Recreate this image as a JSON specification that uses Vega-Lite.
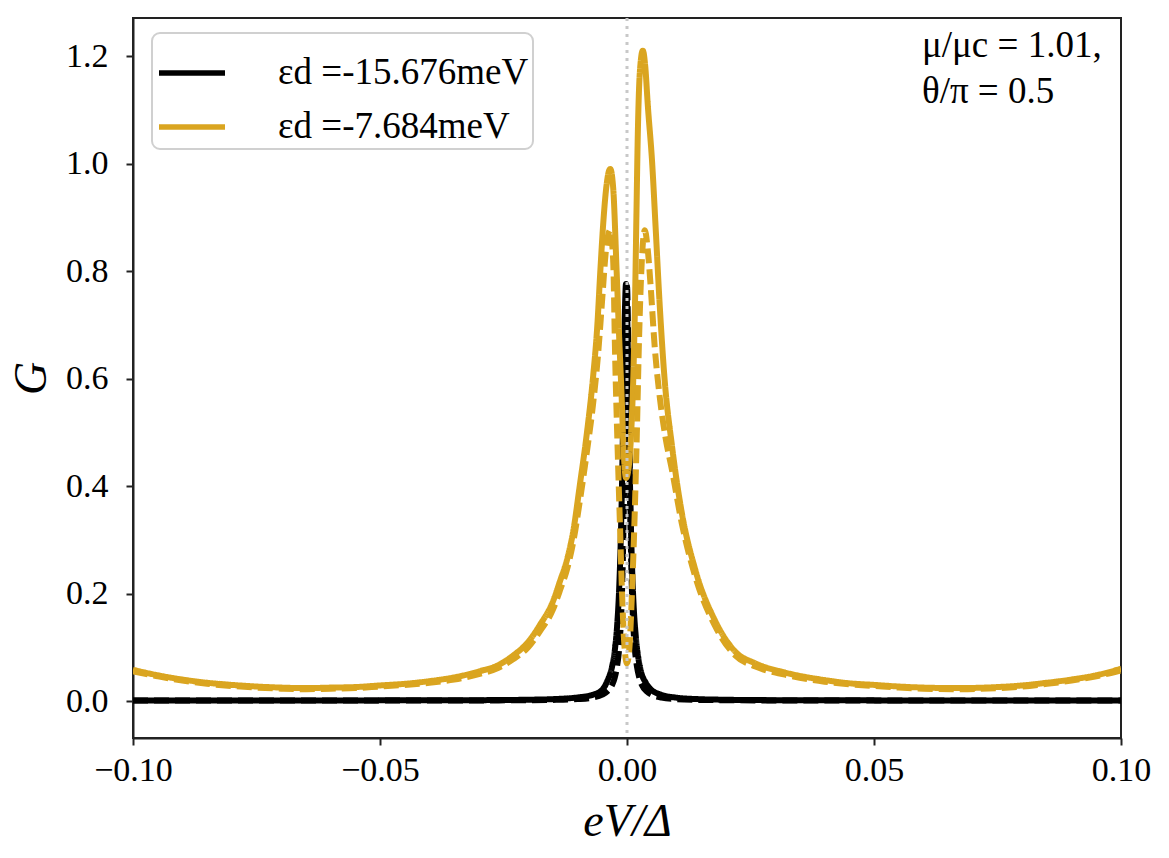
{
  "$schema": "https://vega.github.io/schema/vega-lite/v6.json",
  "autosize": "none",
  "width": 988,
  "height": 720,
  "padding": {"left": 133, "top": 18, "right": 48, "bottom": 120},
  "background": "white",
  "config": {
    "view": {"stroke": "#222222", "strokeWidth": 2},
    "axis": {
      "labelFont": "Liberation Serif", "labelFontSize": 34, "labelColor": "black",
      "titleFont": "Liberation Serif", "titleFontSize": 46, "titleFontStyle": "italic", "titleFontWeight": "normal", "titleColor": "black",
      "tickColor": "#222222", "tickSize": 7, "tickWidth": 2,
      "domainColor": "#222222", "domainWidth": 2, "grid": false, "labelFlush": false
    },
    "legend": {
      "orient": "none", "legendX": 19, "legendY": 15, "padding": 4,
      "fillColor": "rgba(255,255,255,0.85)", "strokeColor": "#d0d0d0", "strokeWidth": 2, "cornerRadius": 8,
      "labelFont": "Liberation Serif", "labelFontSize": 37, "labelColor": "black", "labelLimit": 500,
      "symbolType": "stroke", "symbolSize": 4356, "symbolStrokeWidth": 5.5, "labelOffset": 50, "rowPadding": -13
    }
  },
  "datasets": {
    "curves": [
      {"x": -0.1, "G": 0.001, "eps": "εd =-15.676meV", "kind": "solid"},
      {"x": -0.05, "G": 0.0012, "eps": "εd =-15.676meV", "kind": "solid"},
      {"x": -0.03, "G": 0.0016, "eps": "εd =-15.676meV", "kind": "solid"},
      {"x": -0.02, "G": 0.0024, "eps": "εd =-15.676meV", "kind": "solid"},
      {"x": -0.015, "G": 0.0035, "eps": "εd =-15.676meV", "kind": "solid"},
      {"x": -0.01, "G": 0.0067, "eps": "εd =-15.676meV", "kind": "solid"},
      {"x": -0.007, "G": 0.0114, "eps": "εd =-15.676meV", "kind": "solid"},
      {"x": -0.005, "G": 0.021, "eps": "εd =-15.676meV", "kind": "solid"},
      {"x": -0.004, "G": 0.037, "eps": "εd =-15.676meV", "kind": "solid"},
      {"x": -0.003, "G": 0.065, "eps": "εd =-15.676meV", "kind": "solid"},
      {"x": -0.0025, "G": 0.092, "eps": "εd =-15.676meV", "kind": "solid"},
      {"x": -0.002, "G": 0.14, "eps": "εd =-15.676meV", "kind": "solid"},
      {"x": -0.0016, "G": 0.206, "eps": "εd =-15.676meV", "kind": "solid"},
      {"x": -0.0013, "G": 0.287, "eps": "εd =-15.676meV", "kind": "solid"},
      {"x": -0.001, "G": 0.407, "eps": "εd =-15.676meV", "kind": "solid"},
      {"x": -0.0007, "G": 0.573, "eps": "εd =-15.676meV", "kind": "solid"},
      {"x": -0.0004, "G": 0.734, "eps": "εd =-15.676meV", "kind": "solid"},
      {"x": -0.0002, "G": 0.776, "eps": "εd =-15.676meV", "kind": "solid"},
      {"x": 0.0, "G": 0.734, "eps": "εd =-15.676meV", "kind": "solid"},
      {"x": 0.0003, "G": 0.573, "eps": "εd =-15.676meV", "kind": "solid"},
      {"x": 0.0006, "G": 0.407, "eps": "εd =-15.676meV", "kind": "solid"},
      {"x": 0.0009, "G": 0.287, "eps": "εd =-15.676meV", "kind": "solid"},
      {"x": 0.0012, "G": 0.206, "eps": "εd =-15.676meV", "kind": "solid"},
      {"x": 0.0018, "G": 0.118, "eps": "εd =-15.676meV", "kind": "solid"},
      {"x": 0.0023, "G": 0.08, "eps": "εd =-15.676meV", "kind": "solid"},
      {"x": 0.0028, "G": 0.056, "eps": "εd =-15.676meV", "kind": "solid"},
      {"x": 0.0038, "G": 0.034, "eps": "εd =-15.676meV", "kind": "solid"},
      {"x": 0.0048, "G": 0.022, "eps": "εd =-15.676meV", "kind": "solid"},
      {"x": 0.0068, "G": 0.012, "eps": "εd =-15.676meV", "kind": "solid"},
      {"x": 0.0098, "G": 0.0065, "eps": "εd =-15.676meV", "kind": "solid"},
      {"x": 0.0148, "G": 0.0034, "eps": "εd =-15.676meV", "kind": "solid"},
      {"x": 0.0198, "G": 0.0024, "eps": "εd =-15.676meV", "kind": "solid"},
      {"x": 0.0298, "G": 0.0016, "eps": "εd =-15.676meV", "kind": "solid"},
      {"x": 0.0498, "G": 0.0012, "eps": "εd =-15.676meV", "kind": "solid"},
      {"x": 0.1, "G": 0.001, "eps": "εd =-15.676meV", "kind": "solid"},

      {"x": -0.1, "G": 0.0008, "eps": "εd =-15.676meV", "kind": "dashed"},
      {"x": -0.05, "G": 0.0009, "eps": "εd =-15.676meV", "kind": "dashed"},
      {"x": -0.03, "G": 0.0011, "eps": "εd =-15.676meV", "kind": "dashed"},
      {"x": -0.02, "G": 0.0015, "eps": "εd =-15.676meV", "kind": "dashed"},
      {"x": -0.015, "G": 0.002, "eps": "εd =-15.676meV", "kind": "dashed"},
      {"x": -0.01, "G": 0.0036, "eps": "εd =-15.676meV", "kind": "dashed"},
      {"x": -0.007, "G": 0.0064, "eps": "εd =-15.676meV", "kind": "dashed"},
      {"x": -0.005, "G": 0.0117, "eps": "εd =-15.676meV", "kind": "dashed"},
      {"x": -0.004, "G": 0.0178, "eps": "εd =-15.676meV", "kind": "dashed"},
      {"x": -0.003, "G": 0.03, "eps": "εd =-15.676meV", "kind": "dashed"},
      {"x": -0.0025, "G": 0.043, "eps": "εd =-15.676meV", "kind": "dashed"},
      {"x": -0.002, "G": 0.065, "eps": "εd =-15.676meV", "kind": "dashed"},
      {"x": -0.0016, "G": 0.096, "eps": "εd =-15.676meV", "kind": "dashed"},
      {"x": -0.0013, "G": 0.137, "eps": "εd =-15.676meV", "kind": "dashed"},
      {"x": -0.001, "G": 0.205, "eps": "εd =-15.676meV", "kind": "dashed"},
      {"x": -0.0007, "G": 0.33, "eps": "εd =-15.676meV", "kind": "dashed"},
      {"x": -0.0004, "G": 0.534, "eps": "εd =-15.676meV", "kind": "dashed"},
      {"x": -0.0002, "G": 0.694, "eps": "εd =-15.676meV", "kind": "dashed"},
      {"x": 0.0, "G": 0.771, "eps": "εd =-15.676meV", "kind": "dashed"},
      {"x": 0.0002, "G": 0.694, "eps": "εd =-15.676meV", "kind": "dashed"},
      {"x": 0.0004, "G": 0.534, "eps": "εd =-15.676meV", "kind": "dashed"},
      {"x": 0.0007, "G": 0.33, "eps": "εd =-15.676meV", "kind": "dashed"},
      {"x": 0.001, "G": 0.205, "eps": "εd =-15.676meV", "kind": "dashed"},
      {"x": 0.0013, "G": 0.137, "eps": "εd =-15.676meV", "kind": "dashed"},
      {"x": 0.0016, "G": 0.096, "eps": "εd =-15.676meV", "kind": "dashed"},
      {"x": 0.002, "G": 0.065, "eps": "εd =-15.676meV", "kind": "dashed"},
      {"x": 0.0025, "G": 0.043, "eps": "εd =-15.676meV", "kind": "dashed"},
      {"x": 0.003, "G": 0.03, "eps": "εd =-15.676meV", "kind": "dashed"},
      {"x": 0.004, "G": 0.0178, "eps": "εd =-15.676meV", "kind": "dashed"},
      {"x": 0.005, "G": 0.0117, "eps": "εd =-15.676meV", "kind": "dashed"},
      {"x": 0.007, "G": 0.0064, "eps": "εd =-15.676meV", "kind": "dashed"},
      {"x": 0.01, "G": 0.0036, "eps": "εd =-15.676meV", "kind": "dashed"},
      {"x": 0.015, "G": 0.002, "eps": "εd =-15.676meV", "kind": "dashed"},
      {"x": 0.02, "G": 0.0015, "eps": "εd =-15.676meV", "kind": "dashed"},
      {"x": 0.03, "G": 0.0011, "eps": "εd =-15.676meV", "kind": "dashed"},
      {"x": 0.05, "G": 0.0009, "eps": "εd =-15.676meV", "kind": "dashed"},
      {"x": 0.1, "G": 0.0008, "eps": "εd =-15.676meV", "kind": "dashed"},

      {"x": -0.1, "G": 0.058, "eps": "εd =-7.684meV", "kind": "solid"},
      {"x": -0.095, "G": 0.048, "eps": "εd =-7.684meV", "kind": "solid"},
      {"x": -0.09, "G": 0.04, "eps": "εd =-7.684meV", "kind": "solid"},
      {"x": -0.085, "G": 0.034, "eps": "εd =-7.684meV", "kind": "solid"},
      {"x": -0.08, "G": 0.03, "eps": "εd =-7.684meV", "kind": "solid"},
      {"x": -0.075, "G": 0.027, "eps": "εd =-7.684meV", "kind": "solid"},
      {"x": -0.07, "G": 0.025, "eps": "εd =-7.684meV", "kind": "solid"},
      {"x": -0.065, "G": 0.024, "eps": "εd =-7.684meV", "kind": "solid"},
      {"x": -0.06, "G": 0.025, "eps": "εd =-7.684meV", "kind": "solid"},
      {"x": -0.055, "G": 0.026, "eps": "εd =-7.684meV", "kind": "solid"},
      {"x": -0.05, "G": 0.029, "eps": "εd =-7.684meV", "kind": "solid"},
      {"x": -0.045, "G": 0.032, "eps": "εd =-7.684meV", "kind": "solid"},
      {"x": -0.04, "G": 0.037, "eps": "εd =-7.684meV", "kind": "solid"},
      {"x": -0.035, "G": 0.044, "eps": "εd =-7.684meV", "kind": "solid"},
      {"x": -0.03, "G": 0.055, "eps": "εd =-7.684meV", "kind": "solid"},
      {"x": -0.026, "G": 0.067, "eps": "εd =-7.684meV", "kind": "solid"},
      {"x": -0.023, "G": 0.085, "eps": "εd =-7.684meV", "kind": "solid"},
      {"x": -0.02, "G": 0.11, "eps": "εd =-7.684meV", "kind": "solid"},
      {"x": -0.0176, "G": 0.142, "eps": "εd =-7.684meV", "kind": "solid"},
      {"x": -0.015, "G": 0.185, "eps": "εd =-7.684meV", "kind": "solid"},
      {"x": -0.0136, "G": 0.222, "eps": "εd =-7.684meV", "kind": "solid"},
      {"x": -0.012, "G": 0.268, "eps": "εd =-7.684meV", "kind": "solid"},
      {"x": -0.0109, "G": 0.315, "eps": "εd =-7.684meV", "kind": "solid"},
      {"x": -0.0095, "G": 0.405, "eps": "εd =-7.684meV", "kind": "solid"},
      {"x": -0.0081, "G": 0.5, "eps": "εd =-7.684meV", "kind": "solid"},
      {"x": -0.0069, "G": 0.6, "eps": "εd =-7.684meV", "kind": "solid"},
      {"x": -0.006, "G": 0.7, "eps": "εd =-7.684meV", "kind": "solid"},
      {"x": -0.0054, "G": 0.8, "eps": "εd =-7.684meV", "kind": "solid"},
      {"x": -0.0048, "G": 0.89, "eps": "εd =-7.684meV", "kind": "solid"},
      {"x": -0.0042, "G": 0.955, "eps": "εd =-7.684meV", "kind": "solid"},
      {"x": -0.0034, "G": 0.99, "eps": "εd =-7.684meV", "kind": "solid"},
      {"x": -0.0028, "G": 0.955, "eps": "εd =-7.684meV", "kind": "solid"},
      {"x": -0.0021, "G": 0.8, "eps": "εd =-7.684meV", "kind": "solid"},
      {"x": -0.0016, "G": 0.68, "eps": "εd =-7.684meV", "kind": "solid"},
      {"x": -0.0011, "G": 0.57, "eps": "εd =-7.684meV", "kind": "solid"},
      {"x": -0.0007, "G": 0.47, "eps": "εd =-7.684meV", "kind": "solid"},
      {"x": -0.0002, "G": 0.415, "eps": "εd =-7.684meV", "kind": "solid"},
      {"x": 0.0004, "G": 0.44, "eps": "εd =-7.684meV", "kind": "solid"},
      {"x": 0.0009, "G": 0.51, "eps": "εd =-7.684meV", "kind": "solid"},
      {"x": 0.0013, "G": 0.61, "eps": "εd =-7.684meV", "kind": "solid"},
      {"x": 0.0016, "G": 0.73, "eps": "εd =-7.684meV", "kind": "solid"},
      {"x": 0.0019, "G": 0.9, "eps": "εd =-7.684meV", "kind": "solid"},
      {"x": 0.0022, "G": 1.06, "eps": "εd =-7.684meV", "kind": "solid"},
      {"x": 0.0026, "G": 1.17, "eps": "εd =-7.684meV", "kind": "solid"},
      {"x": 0.0032, "G": 1.21, "eps": "εd =-7.684meV", "kind": "solid"},
      {"x": 0.0037, "G": 1.18, "eps": "εd =-7.684meV", "kind": "solid"},
      {"x": 0.0042, "G": 1.11, "eps": "εd =-7.684meV", "kind": "solid"},
      {"x": 0.0051, "G": 1.0, "eps": "εd =-7.684meV", "kind": "solid"},
      {"x": 0.0058, "G": 0.88, "eps": "εd =-7.684meV", "kind": "solid"},
      {"x": 0.0066, "G": 0.74, "eps": "εd =-7.684meV", "kind": "solid"},
      {"x": 0.0076, "G": 0.6, "eps": "εd =-7.684meV", "kind": "solid"},
      {"x": 0.0091, "G": 0.475, "eps": "εd =-7.684meV", "kind": "solid"},
      {"x": 0.0111, "G": 0.35, "eps": "εd =-7.684meV", "kind": "solid"},
      {"x": 0.0138, "G": 0.245, "eps": "εd =-7.684meV", "kind": "solid"},
      {"x": 0.0178, "G": 0.15, "eps": "εd =-7.684meV", "kind": "solid"},
      {"x": 0.0219, "G": 0.092, "eps": "εd =-7.684meV", "kind": "solid"},
      {"x": 0.026, "G": 0.07, "eps": "εd =-7.684meV", "kind": "solid"},
      {"x": 0.032, "G": 0.053, "eps": "εd =-7.684meV", "kind": "solid"},
      {"x": 0.04, "G": 0.039, "eps": "εd =-7.684meV", "kind": "solid"},
      {"x": 0.045, "G": 0.033, "eps": "εd =-7.684meV", "kind": "solid"},
      {"x": 0.05, "G": 0.03, "eps": "εd =-7.684meV", "kind": "solid"},
      {"x": 0.055, "G": 0.027, "eps": "εd =-7.684meV", "kind": "solid"},
      {"x": 0.06, "G": 0.025, "eps": "εd =-7.684meV", "kind": "solid"},
      {"x": 0.067, "G": 0.024, "eps": "εd =-7.684meV", "kind": "solid"},
      {"x": 0.075, "G": 0.026, "eps": "εd =-7.684meV", "kind": "solid"},
      {"x": 0.08, "G": 0.029, "eps": "εd =-7.684meV", "kind": "solid"},
      {"x": 0.085, "G": 0.034, "eps": "εd =-7.684meV", "kind": "solid"},
      {"x": 0.09, "G": 0.04, "eps": "εd =-7.684meV", "kind": "solid"},
      {"x": 0.095, "G": 0.048, "eps": "εd =-7.684meV", "kind": "solid"},
      {"x": 0.1, "G": 0.06, "eps": "εd =-7.684meV", "kind": "solid"},

      {"x": -0.1, "G": 0.055, "eps": "εd =-7.684meV", "kind": "dashed"},
      {"x": -0.095, "G": 0.046, "eps": "εd =-7.684meV", "kind": "dashed"},
      {"x": -0.09, "G": 0.038, "eps": "εd =-7.684meV", "kind": "dashed"},
      {"x": -0.085, "G": 0.032, "eps": "εd =-7.684meV", "kind": "dashed"},
      {"x": -0.08, "G": 0.028, "eps": "εd =-7.684meV", "kind": "dashed"},
      {"x": -0.075, "G": 0.025, "eps": "εd =-7.684meV", "kind": "dashed"},
      {"x": -0.07, "G": 0.023, "eps": "εd =-7.684meV", "kind": "dashed"},
      {"x": -0.065, "G": 0.022, "eps": "εd =-7.684meV", "kind": "dashed"},
      {"x": -0.06, "G": 0.023, "eps": "εd =-7.684meV", "kind": "dashed"},
      {"x": -0.055, "G": 0.024, "eps": "εd =-7.684meV", "kind": "dashed"},
      {"x": -0.05, "G": 0.027, "eps": "εd =-7.684meV", "kind": "dashed"},
      {"x": -0.045, "G": 0.03, "eps": "εd =-7.684meV", "kind": "dashed"},
      {"x": -0.04, "G": 0.034, "eps": "εd =-7.684meV", "kind": "dashed"},
      {"x": -0.035, "G": 0.04, "eps": "εd =-7.684meV", "kind": "dashed"},
      {"x": -0.03, "G": 0.05, "eps": "εd =-7.684meV", "kind": "dashed"},
      {"x": -0.026, "G": 0.062, "eps": "εd =-7.684meV", "kind": "dashed"},
      {"x": -0.023, "G": 0.078, "eps": "εd =-7.684meV", "kind": "dashed"},
      {"x": -0.02, "G": 0.1, "eps": "εd =-7.684meV", "kind": "dashed"},
      {"x": -0.0176, "G": 0.13, "eps": "εd =-7.684meV", "kind": "dashed"},
      {"x": -0.015, "G": 0.17, "eps": "εd =-7.684meV", "kind": "dashed"},
      {"x": -0.0136, "G": 0.205, "eps": "εd =-7.684meV", "kind": "dashed"},
      {"x": -0.012, "G": 0.25, "eps": "εd =-7.684meV", "kind": "dashed"},
      {"x": -0.0109, "G": 0.295, "eps": "εd =-7.684meV", "kind": "dashed"},
      {"x": -0.0095, "G": 0.375, "eps": "εd =-7.684meV", "kind": "dashed"},
      {"x": -0.0081, "G": 0.465, "eps": "εd =-7.684meV", "kind": "dashed"},
      {"x": -0.0069, "G": 0.55, "eps": "εd =-7.684meV", "kind": "dashed"},
      {"x": -0.0059, "G": 0.64, "eps": "εd =-7.684meV", "kind": "dashed"},
      {"x": -0.005, "G": 0.75, "eps": "εd =-7.684meV", "kind": "dashed"},
      {"x": -0.0043, "G": 0.835, "eps": "εd =-7.684meV", "kind": "dashed"},
      {"x": -0.0034, "G": 0.876, "eps": "εd =-7.684meV", "kind": "dashed"},
      {"x": -0.0028, "G": 0.82, "eps": "εd =-7.684meV", "kind": "dashed"},
      {"x": -0.0024, "G": 0.64, "eps": "εd =-7.684meV", "kind": "dashed"},
      {"x": -0.0019, "G": 0.47, "eps": "εd =-7.684meV", "kind": "dashed"},
      {"x": -0.0014, "G": 0.32, "eps": "εd =-7.684meV", "kind": "dashed"},
      {"x": -0.001, "G": 0.2, "eps": "εd =-7.684meV", "kind": "dashed"},
      {"x": -0.0005, "G": 0.1, "eps": "εd =-7.684meV", "kind": "dashed"},
      {"x": 0.0, "G": 0.07, "eps": "εd =-7.684meV", "kind": "dashed"},
      {"x": 0.0005, "G": 0.1, "eps": "εd =-7.684meV", "kind": "dashed"},
      {"x": 0.001, "G": 0.2, "eps": "εd =-7.684meV", "kind": "dashed"},
      {"x": 0.0015, "G": 0.33, "eps": "εd =-7.684meV", "kind": "dashed"},
      {"x": 0.002, "G": 0.5, "eps": "εd =-7.684meV", "kind": "dashed"},
      {"x": 0.0024, "G": 0.66, "eps": "εd =-7.684meV", "kind": "dashed"},
      {"x": 0.0029, "G": 0.8, "eps": "εd =-7.684meV", "kind": "dashed"},
      {"x": 0.0036, "G": 0.876, "eps": "εd =-7.684meV", "kind": "dashed"},
      {"x": 0.0042, "G": 0.84, "eps": "εd =-7.684meV", "kind": "dashed"},
      {"x": 0.0048, "G": 0.77, "eps": "εd =-7.684meV", "kind": "dashed"},
      {"x": 0.0056, "G": 0.66, "eps": "εd =-7.684meV", "kind": "dashed"},
      {"x": 0.0067, "G": 0.56, "eps": "εd =-7.684meV", "kind": "dashed"},
      {"x": 0.0078, "G": 0.49, "eps": "εd =-7.684meV", "kind": "dashed"},
      {"x": 0.0091, "G": 0.43, "eps": "εd =-7.684meV", "kind": "dashed"},
      {"x": 0.0111, "G": 0.33, "eps": "εd =-7.684meV", "kind": "dashed"},
      {"x": 0.0138, "G": 0.232, "eps": "εd =-7.684meV", "kind": "dashed"},
      {"x": 0.0178, "G": 0.14, "eps": "εd =-7.684meV", "kind": "dashed"},
      {"x": 0.0219, "G": 0.085, "eps": "εd =-7.684meV", "kind": "dashed"},
      {"x": 0.026, "G": 0.064, "eps": "εd =-7.684meV", "kind": "dashed"},
      {"x": 0.032, "G": 0.049, "eps": "εd =-7.684meV", "kind": "dashed"},
      {"x": 0.04, "G": 0.036, "eps": "εd =-7.684meV", "kind": "dashed"},
      {"x": 0.045, "G": 0.031, "eps": "εd =-7.684meV", "kind": "dashed"},
      {"x": 0.05, "G": 0.028, "eps": "εd =-7.684meV", "kind": "dashed"},
      {"x": 0.055, "G": 0.025, "eps": "εd =-7.684meV", "kind": "dashed"},
      {"x": 0.06, "G": 0.023, "eps": "εd =-7.684meV", "kind": "dashed"},
      {"x": 0.067, "G": 0.022, "eps": "εd =-7.684meV", "kind": "dashed"},
      {"x": 0.075, "G": 0.024, "eps": "εd =-7.684meV", "kind": "dashed"},
      {"x": 0.08, "G": 0.027, "eps": "εd =-7.684meV", "kind": "dashed"},
      {"x": 0.085, "G": 0.032, "eps": "εd =-7.684meV", "kind": "dashed"},
      {"x": 0.09, "G": 0.038, "eps": "εd =-7.684meV", "kind": "dashed"},
      {"x": 0.095, "G": 0.046, "eps": "εd =-7.684meV", "kind": "dashed"},
      {"x": 0.1, "G": 0.057, "eps": "εd =-7.684meV", "kind": "dashed"}
    ]
  },
  "layer": [
    {
      "data": {"name": "curves"},
      "mark": {"type": "line", "strokeWidth": 6, "interpolate": "monotone", "clip": true},
      "encoding": {
        "x": {
          "field": "x", "type": "quantitative",
          "scale": {"domain": [-0.1, 0.1], "nice": false, "zero": false},
          "axis": {"values": [-0.1, -0.05, 0, 0.05, 0.1], "format": ".2f", "title": "eV/Δ", "labelPadding": 8, "titlePadding": 12}
        },
        "y": {
          "field": "G", "type": "quantitative",
          "scale": {"domain": [-0.0688, 1.2707], "nice": false, "zero": false},
          "axis": {"values": [0, 0.2, 0.4, 0.6, 0.8, 1.0, 1.2], "format": ".1f", "title": "G", "labelPadding": 18, "titlePadding": 10}
        },
        "color": {
          "field": "eps", "type": "nominal",
          "scale": {"domain": ["εd =-15.676meV", "εd =-7.684meV"], "range": ["#000000", "#DAA520"]},
          "legend": {"title": null}
        },
        "strokeDash": {
          "field": "kind", "type": "nominal",
          "scale": {"domain": ["solid", "dashed"], "range": [[1, 0], [15, 6]]},
          "legend": null
        },
        "order": {"field": "x", "type": "quantitative"}
      }
    },
    {
      "data": {"values": [{"x": 0}]},
      "mark": {"type": "rule", "color": "#c8c8c8", "strokeWidth": 3, "strokeDash": [3, 5]},
      "encoding": {"x": {"field": "x", "type": "quantitative"}}
    },
    {
      "data": {"values": [{"label": "annotation"}]},
      "mark": {"type": "text", "align": "left", "baseline": "top", "font": "Liberation Serif", "fontSize": 37, "lineHeight": 46, "color": "black",
               "text": ["μ/μc = 1.01,", "θ/π = 0.5"]},
      "encoding": {"x": {"datum": 0.0597}, "y": {"datum": 1.252}}
    }
  ]
}
